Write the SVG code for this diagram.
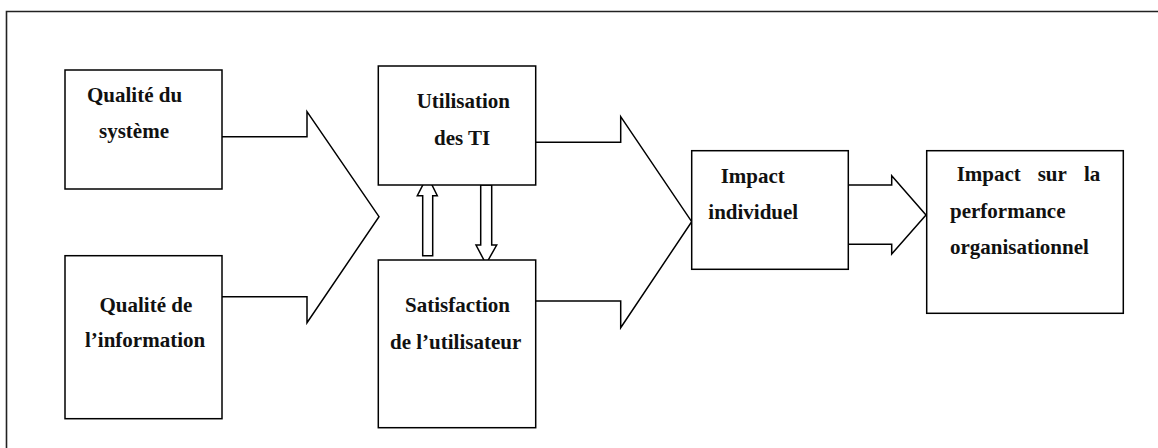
<svg xmlns="http://www.w3.org/2000/svg" width="1158" height="448" viewBox="0 0 1158 448">
<style>
.box{fill:#fff;stroke:#000;stroke-width:1.5}
.con{fill:none;stroke:#000;stroke-width:1.5;stroke-linejoin:miter}
.blk{fill:#fff;stroke:#000;stroke-width:1.5}
.t{font-family:'Liberation Serif','DejaVu Serif',serif;font-weight:700;font-size:21px;fill:#111}
</style>
<rect width="1158" height="448" fill="#fff"/>
<path d="M6.5,460 V11.5 H1170" fill="none" stroke="#222" stroke-width="1.6"/>
<g id="connectors">
<polyline class="con" points="222,136.7 307,136.7 307,111.7 379,216.7 307,322.7 307,296.7 222,296.7"/>
<polyline class="con" points="535.7,142.3 620.7,142.3 620.7,116.7 691.7,221.7 620.7,327.7 620.7,301 535.7,301"/>
<polyline class="con" points="848.3,185 891.7,185 891.7,175.7 926,215 891.7,254 891.7,244.3 848.3,244.3"/>
<polygon class="blk" points="422.7,255.7 432.7,255.7 432.7,195.7 437.3,195.7 427.5,176 417.3,195.7 422.7,195.7"/>
<polygon class="blk" points="480.7,185 491.7,185 491.7,245 496.7,245 486,264 476,245 480.7,245"/>
</g>
<g id="n1"><rect class="box" x="65" y="70" width="157" height="119"/>
<text class="t" x="87" y="102">Qualité du</text><text class="t" x="99" y="138">système</text></g>
<g id="n2"><rect class="box" x="65" y="255.7" width="157" height="163"/>
<text class="t" x="99.5" y="311.7">Qualité de</text><text class="t" x="85" y="347.3">l’information</text></g>
<g id="n3"><rect class="box" x="378.3" y="66" width="157.4" height="119"/>
<text class="t" x="416.7" y="108.3">Utilisation</text><text class="t" x="434" y="145">des TI</text></g>
<g id="n4"><rect class="box" x="378.3" y="260" width="157.4" height="167.7"/>
<text class="t" x="405" y="311.7">Satisfaction</text><text class="t" x="390" y="349">de l’utilisateur</text></g>
<g id="n5"><rect class="box" x="691.7" y="150.7" width="156.6" height="118.6"/>
<text class="t" x="720.7" y="182.7">Impact</text><text class="t" x="708.3" y="219.3">individuel</text></g>
<g id="n6"><rect class="box" x="926.7" y="150.7" width="196.6" height="162.6"/>
<text class="t" x="956.7" y="181">Impact</text><text class="t" x="1037.7" y="181">sur</text><text class="t" x="1084" y="181">la</text>
<text class="t" x="950" y="218.3">performance</text><text class="t" x="950" y="254">organisationnel</text></g>
</svg>
